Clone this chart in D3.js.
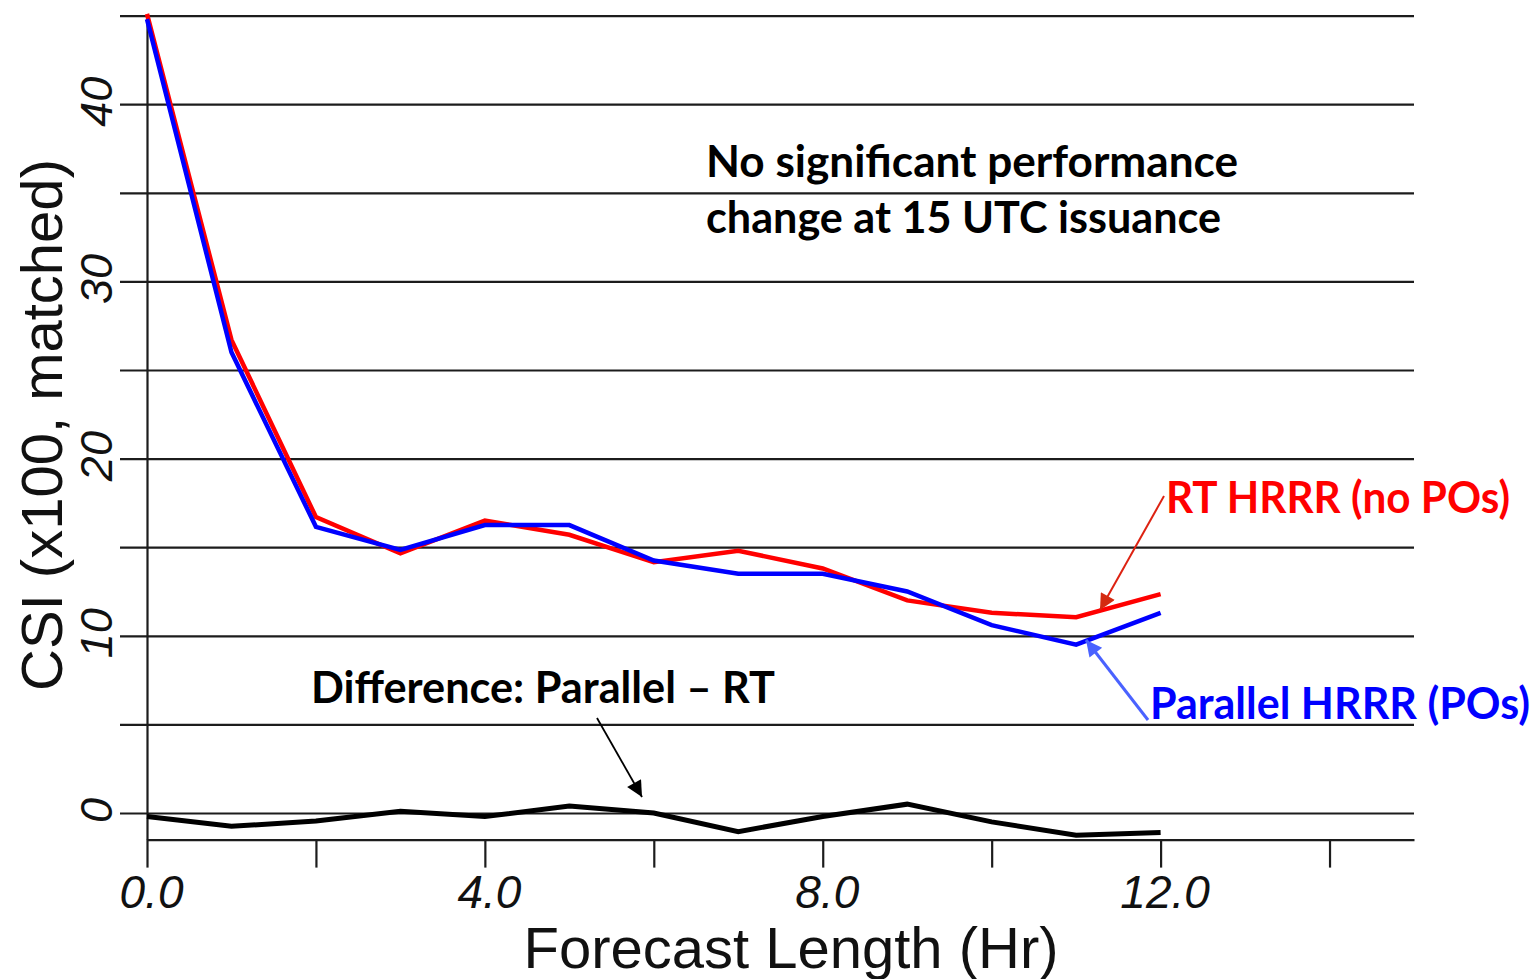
<!DOCTYPE html>
<html>
<head>
<meta charset="utf-8">
<script src="https://cdn.jsdelivr.net/npm/d3@7"></script>
<style>
  body { margin: 0; background: #fff; }
  svg { display: block; }
</style>
</head>
<body>
<svg id="chart" width="1537" height="979"></svg>
<script>
// 数据：预报时效 (小时) 和 CSI 值
const hours = [0, 1, 2, 3, 4, 5, 6, 7, 8, 9, 10, 11, 12];
const rtHRRR = [45.1, 26.7, 16.7, 14.65, 16.5, 15.7, 14.15, 14.8, 13.8, 12.0, 11.3, 11.05, 12.35];
const parallelHRRR = [44.8, 26.0, 16.15, 14.85, 16.25, 16.25, 14.25, 13.5, 13.5, 12.5, 10.6, 9.5, 11.3];
const diffParallelRT = [-0.2, -0.75, -0.45, 0.1, -0.2, 0.4, 0.0, -1.05, -0.2, 0.5, -0.5, -1.25, -1.1];

const xTicks = [0, 2, 4, 6, 8, 10, 12, 14];
const xLabelled = [0, 4, 8, 12];
const yGrid = [0, 5, 10, 15, 20, 25, 30, 35, 40, 45];
const yLabelled = [0, 10, 20, 30, 40];

const svg = d3.select('#chart');
const axisFont = '"Liberation Sans", Arial, sans-serif';
const noteFont = 'Lato, "Open Sans", sans-serif';

// 比例尺
const x = d3.scaleLinear().domain([0, 15]).range([147, 1414]);
const y = d3.scaleLinear().domain([-1.5, 45]).range([839.6, 15.6]);

// 网格线 (左边伸出一点当刻度)
const gridLeft = 120;
svg.append('g')
  .attr('transform', `translate(${gridLeft},0)`)
  .call(d3.axisRight(y).tickValues(yGrid).tickSize(x.range()[1] - gridLeft).tickFormat(''))
  .call(g => g.select('.domain').remove())
  .call(g => g.selectAll('line').attr('stroke', '#1c1c1c').attr('stroke-width', 2.2));

// y 轴
const yAxis = svg.append('g')
  .attr('transform', `translate(${x(0)},0)`)
  .call(d3.axisLeft(y).tickValues(yLabelled).tickSize(0).tickSizeOuter(0).tickFormat(d => d));
yAxis.select('.domain').attr('stroke', '#1c1c1c').attr('stroke-width', 2.2);
yAxis.selectAll('text')
  .attr('x', 3).attr('y', -35).attr('dy', 0)
  .attr('transform', 'rotate(-90)')
  .attr('text-anchor', 'middle')
  .style('font-family', axisFont).style('font-style', 'italic')
  .style('font-size', '45px').attr('fill', '#111');

// x 轴
const xAxis = svg.append('g')
  .attr('transform', `translate(0,${y.range()[0]})`)
  .call(d3.axisBottom(x).tickValues(xTicks).tickSize(28).tickSizeOuter(0).tickPadding(8)
    .tickFormat(d => xLabelled.includes(d) ? d.toFixed(1) : ''));
xAxis.select('.domain').attr('stroke', '#1c1c1c').attr('stroke-width', 2.2);
xAxis.selectAll('line').attr('stroke', '#1c1c1c').attr('stroke-width', 2.2);
xAxis.selectAll('text')
  .attr('x', 4)
  .style('font-family', axisFont).style('font-style', 'italic')
  .style('font-size', '46px').attr('fill', '#111');

// 轴标题
svg.append('text')
  .attr('x', 791).attr('y', 968)
  .attr('text-anchor', 'middle')
  .style('font-family', axisFont).style('font-size', '58px').attr('fill', '#111')
  .text('Forecast Length (Hr)');

svg.append('text')
  .attr('transform', 'translate(62,425) rotate(-90)')
  .attr('text-anchor', 'middle')
  .style('font-family', axisFont).style('font-size', '58px').attr('fill', '#111')
  .text('CSI (x100, matched)');

// 折线
const line = d3.line()
  .x(d => x(d[0]))
  .y(d => y(d[1]));

const series = [
  { values: rtHRRR, color: '#ff0000', width: 4.5 },
  { values: parallelHRRR, color: '#0000ff', width: 4.5 },
  { values: diffParallelRT, color: '#000000', width: 5 }
];

svg.append('g').selectAll('path')
  .data(series)
  .join('path')
  .attr('d', s => line(hours.map((h, i) => [h, s.values[i]])))
  .attr('fill', 'none')
  .attr('stroke', d => d.color)
  .attr('stroke-width', d => d.width)
  .attr('stroke-linejoin', 'miter');

// 箭头
const defs = svg.append('defs');
function marker(id, color) {
  defs.append('marker')
    .attr('id', id)
    .attr('viewBox', '0 0 10 10')
    .attr('refX', 10).attr('refY', 5)
    .attr('markerUnits', 'userSpaceOnUse')
    .attr('markerWidth', 20).attr('markerHeight', 16)
    .attr('orient', 'auto')
    .append('path')
    .attr('d', 'M0,0 L10,5 L0,10 Z')
    .attr('fill', color);
}
marker('arrow-black', '#000');
marker('arrow-red', '#d42a10');
marker('arrow-blue', '#4a62ff');

const arrows = [
  { x1: 597, y1: 718, x2: 642, y2: 797, color: '#000', w: 1.8, m: 'arrow-black' },
  { x1: 1164, y1: 496, x2: 1100, y2: 610, color: '#dd2211', w: 2, m: 'arrow-red' },
  { x1: 1148, y1: 720, x2: 1086, y2: 640, color: '#4a62ff', w: 3, m: 'arrow-blue' }
];
svg.append('g').selectAll('line')
  .data(arrows)
  .join('line')
  .attr('x1', d => d.x1).attr('y1', d => d.y1)
  .attr('x2', d => d.x2).attr('y2', d => d.y2)
  .attr('stroke', d => d.color).attr('stroke-width', d => d.w)
  .attr('marker-end', d => `url(#${d.m})`);

// 注释文字 (宽度按原图拉齐)
const notes = [
  { text: 'No significant performance', x: 706, y: 177, len: 532, color: '#000' },
  { text: 'change at 15 UTC issuance', x: 706, y: 233, len: 515, color: '#000' },
  { text: 'Difference: Parallel – RT', x: 311, y: 703, len: 464, color: '#000' },
  { text: 'RT HRRR (no POs)', x: 1166, y: 513, len: 344, color: '#ff0000' },
  { text: 'Parallel HRRR (POs)', x: 1150, y: 719, len: 380, color: '#0000ff' }
];
svg.append('g').selectAll('text')
  .data(notes)
  .join('text')
  .attr('x', d => d.x).attr('y', d => d.y)
  .attr('textLength', d => d.len)
  .attr('lengthAdjust', 'spacingAndGlyphs')
  .attr('fill', d => d.color)
  .style('font-family', noteFont).style('font-weight', 'bold').style('font-size', '43px')
  .text(d => d.text);
</script>
</body>
</html>
